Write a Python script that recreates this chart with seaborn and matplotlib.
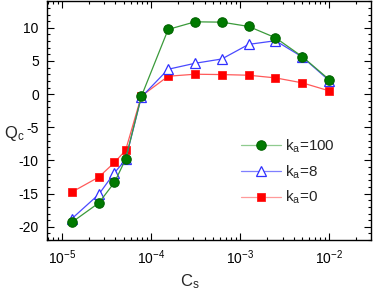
import numpy as np
import pandas as pd
import matplotlib
matplotlib.use('Agg')
import matplotlib.pyplot as plt
import seaborn as sns
from matplotlib.ticker import LogLocator, MultipleLocator, NullFormatter

sns.set_style('ticks')
plt.rcParams['font.family'] = ['Liberation Sans', 'DejaVu Sans']
plt.rcParams['axes.unicode_minus'] = False
plt.rcParams['mathtext.fontset'] = 'custom'
plt.rcParams['mathtext.rm'] = 'Liberation Sans'
plt.rcParams['mathtext.it'] = 'Liberation Sans'
plt.rcParams['mathtext.default'] = 'regular'

# 데이터
cs = [1.3e-5, 2.6e-5, 3.9e-5, 5.2e-5, 7.8e-5, 1.56e-4, 3.125e-4, 6.25e-4,
      1.25e-3, 2.5e-3, 5e-3, 1e-2]
q_ka100 = [-19.3, -16.4, -13.3, -9.8, -0.35, 9.75, 10.9, 10.85, 10.2, 8.5, 5.65, 2.2]
q_ka8 = [-18.75, -15.1, -11.85, -9.85, -0.45, 3.75, 4.65, 5.3, 7.5, 8.05, 5.6, 2.05]
q_ka0 = [-14.75, -12.5, -10.3, -8.45, -0.3, 2.7, 3.0, 2.95, 2.85, 2.45, 1.7, 0.5]
labels = ['$k_a$=100', '$k_a$=8', '$k_a$=0']

fig = plt.figure(figsize=(3.74, 2.9), dpi=100)
ax = fig.add_axes([0.126, 0.172, 0.866, 0.826])

# 시리즈별 스타일
styles = [
    dict(color='#3a9a3a', marker='o', markersize=6.8, markerfacecolor='#007a00',
         markeredgecolor='#006400', markeredgewidth=0.8),
    dict(color='#4a4aff', marker='^', markersize=7, markerfacecolor='white',
         markeredgecolor='#3030ff', markeredgewidth=0.9),
    dict(color='#ff5a5a', marker='s', markersize=5.6, markerfacecolor='#ff0000',
         markeredgecolor='#ff1a1a', markeredgewidth=0.6),
]
legend_line_colors = ['#8fcb8f', '#7f7fff', '#ff9a9a']
series = [q_ka100, q_ka8, q_ka0]
order = [2, 1, 0]  # 빨강 먼저 그리고 초록을 위에
for i in order:
    df = pd.DataFrame({'cs': cs, 'q': series[i]})
    sns.lineplot(data=df, x='cs', y='q', ax=ax, sort=False, estimator=None,
                 linewidth=0.9, label=labels[i], zorder=3 + (2 - i), **styles[i])

ax.set_xscale('log')
ax.set_xlim(10 ** -5.165, 10 ** -1.53)
ax.set_ylim(-22, 14.1)
ax.yaxis.set_major_locator(MultipleLocator(5))
ax.yaxis.set_minor_locator(MultipleLocator(1))
ax.xaxis.set_major_locator(LogLocator(base=10, numticks=10))
ax.xaxis.set_minor_locator(LogLocator(base=10, subs=np.arange(2, 10), numticks=20))
ax.xaxis.set_minor_formatter(NullFormatter())

ax.tick_params(which='both', direction='in', top=True, right=True, labelsize=10,
               width=0.8, colors='black')
ax.tick_params(which='major', length=5, pad=6)
ax.tick_params(which='minor', length=2.5)
for s in ax.spines.values():
    s.set_linewidth(1.0)
    s.set_color('black')

ax.set_xlabel('$C_s$', fontsize=12, va='center')
ax.xaxis.set_label_coords(0.44, -0.175)
ax.set_ylabel('$Q_c$', fontsize=12, rotation=0, va='center', ha='center')
ax.yaxis.set_label_coords(-0.1, 0.445)

handles, labs = ax.get_legend_handles_labels()
hmap = dict(zip(labs, handles))
leg = ax.legend([hmap[l] for l in labels], labels, loc='center left',
                bbox_to_anchor=(0.575, 0.285), frameon=False, fontsize=11,
                handlelength=2.6, handletextpad=0.3, labelspacing=0.55,
                borderpad=0)
for h, c in zip(leg.get_lines(), legend_line_colors):
    h.set_color(c)

fig.savefig('out.png', dpi=100)
